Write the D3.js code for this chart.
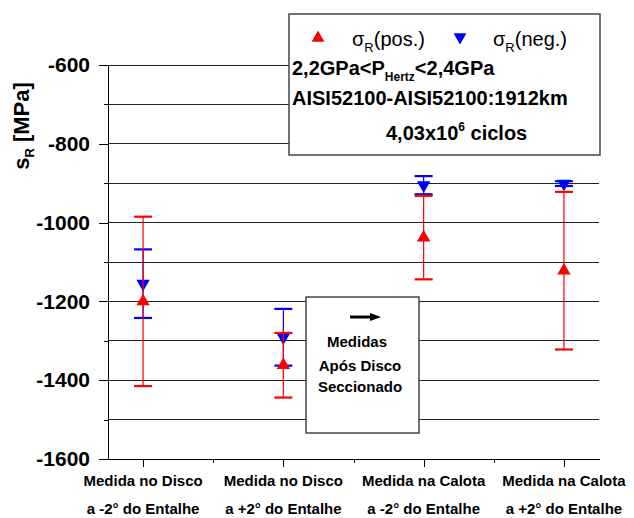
<!DOCTYPE html>
<html lang="pt">
<head>
<meta charset="UTF-8">
<title>Tensão residual - sigma R</title>
<script src="https://d3js.org/d3.v7.min.js"></script>
<style>
  body { margin: 0; background: #fff; }
  text { font-family: "Liberation Sans", Arial, sans-serif; fill: #000; }
  .axis path, .axis line { fill: none; stroke: #000; stroke-width: 1px; shape-rendering: crispEdges; }
  .axis text { font-size: 21px; font-weight: bold; }
  .grid line { stroke: #222; stroke-width: 1px; shape-rendering: crispEdges; }
  .box { fill: #fff; stroke: #444; stroke-width: 1.5px; }
  .xlab { font-size: 15px; font-weight: bold; text-anchor: middle; }
  .note { font-size: 15px; font-weight: bold; text-anchor: middle; }
  .leg { font-size: 20px; }
  .legb { font-size: 20px; font-weight: bold; }
</style>
</head>
<body>
<svg width="634" height="518"></svg>
<script>
// categorias (eixo x)
var categories = [1, 2, 3, 4];
var catLine1 = ["Medida no Disco", "Medida no Disco", "Medida na Calota", "Medida na Calota"];
var catLine2 = ["a -2° do Entalhe", "a +2° do Entalhe", "a -2° do Entalhe", "a +2° do Entalhe"];

// sigma R (pos.) - vermelho
var posMean = [-1200, -1362, -1038, -1122];
var posErr = [215, 82, 106, 200];
// sigma R (neg.) - azul
var negMean = [-1155, -1291, -905, -901];
var negErr = [87, 72, 23, 6];

// ticks
var yMajor = [-1600, -1400, -1200, -1000, -800, -600];
var yMinor = [-1500, -1300, -1100, -900, -700];
var yGrid = [-1500, -1400, -1300, -1200, -1100, -1000, -900, -800, -700, -600];
var xMinor = [1.5, 2.5, 3.5];

var svg = d3.select("svg"),
    m = {left: 108, right: 599, top: 65, bottom: 459};

var x = d3.scaleLinear().domain([0.75, 4.25]).range([m.left, m.right]);
var y = d3.scaleLinear().domain([-1600, -600]).range([m.bottom, m.top]);

// grade
svg.append("g").attr("class", "grid")
  .selectAll("line").data(yGrid).enter().append("line")
  .attr("x1", m.left).attr("x2", m.right)
  .attr("y1", function(d) { return y(d); })
  .attr("y2", function(d) { return y(d); });

// eixo y
svg.append("g").attr("class", "axis")
  .attr("transform", "translate(" + m.left + ",0)")
  .call(d3.axisLeft(y).tickValues(yMajor).tickSize(9).tickSizeOuter(0).tickPadding(9)
    .tickFormat(function(d) { return String(d); }));
svg.append("g").attr("class", "axis")
  .attr("transform", "translate(" + m.left + ",0)")
  .call(d3.axisLeft(y).tickValues(yMinor).tickSize(4.5).tickSizeOuter(0).tickFormat(""))
  .select(".domain").remove();

// eixo x
svg.append("g").attr("class", "axis")
  .attr("transform", "translate(0," + m.bottom + ")")
  .call(d3.axisBottom(x).tickValues(categories).tickSize(8).tickSizeOuter(0).tickFormat(""));
svg.append("g").attr("class", "axis")
  .attr("transform", "translate(0," + m.bottom + ")")
  .call(d3.axisBottom(x).tickValues(xMinor).tickSize(4).tickSizeOuter(0).tickFormat(""))
  .select(".domain").remove();

// rótulos x em duas linhas
var xl = svg.append("g").selectAll("g").data(categories).enter().append("g");
xl.append("text").attr("class", "xlab")
  .attr("x", function(d) { return x(d); }).attr("y", 486)
  .text(function(d, i) { return catLine1[i]; });
xl.append("text").attr("class", "xlab")
  .attr("x", function(d) { return x(d); }).attr("y", 514)
  .text(function(d, i) { return catLine2[i]; });

// título eixo y
var yt = svg.append("text")
  .attr("transform", "translate(29,126) rotate(-90)")
  .attr("text-anchor", "middle")
  .style("font-size", "22px").style("font-weight", "bold");
yt.append("tspan").text("s");
yt.append("tspan").attr("dy", 5).style("font-size", "13px").text("R");
yt.append("tspan").attr("dy", -5).text(" [MPa]");

// barras de erro + marcadores
function series(mean, err, color, rot) {
  var g = svg.append("g");
  var d = categories.map(function(c, i) { return {c: c, m: mean[i], e: err[i]}; });
  g.selectAll(".v").data(d).enter().append("line")
    .attr("stroke", color).attr("stroke-width", 1.2)
    .attr("x1", function(p) { return x(p.c); }).attr("x2", function(p) { return x(p.c); })
    .attr("y1", function(p) { return y(p.m + p.e); })
    .attr("y2", function(p) { return y(p.m - p.e); });
  [1, -1].forEach(function(s) {
    g.selectAll(".cap" + s).data(d).enter().append("line")
      .attr("stroke", color).attr("stroke-width", 2.2)
      .attr("x1", function(p) { return x(p.c) - 9; }).attr("x2", function(p) { return x(p.c) + 9; })
      .attr("y1", function(p) { return y(p.m + s * p.e); })
      .attr("y2", function(p) { return y(p.m + s * p.e); });
  });
  g.selectAll("path").data(d).enter().append("path")
    .attr("fill", color)
    .attr("d", d3.symbol().type(d3.symbolTriangle).size(78))
    .attr("transform", function(p) { return "translate(" + x(p.c) + "," + y(p.m) + ") rotate(" + rot + ")"; });
}
series(negMean, negErr, "#0000ff", 180);
series(posMean, posErr, "#ff0000", 0);

// caixa de legenda
svg.append("rect").attr("class", "box")
  .attr("x", 289).attr("y", 14).attr("width", 311).attr("height", 141);
svg.append("path").attr("fill", "#ff0000")
  .attr("d", d3.symbol().type(d3.symbolTriangle).size(72))
  .attr("transform", "translate(318,38)");
svg.append("path").attr("fill", "#0000ff")
  .attr("d", d3.symbol().type(d3.symbolTriangle).size(72))
  .attr("transform", "translate(460,37) rotate(180)");

function sigma(xp, label) {
  var t = svg.append("text").attr("class", "leg").attr("x", xp).attr("y", 46);
  t.append("tspan").text("σ");
  t.append("tspan").attr("dy", 6).style("font-size", "13px").text("R");
  t.append("tspan").attr("dy", -6).text(label);
}
sigma(352, "(pos.)");
sigma(493, "(neg.)");

var l1 = svg.append("text").attr("class", "legb").attr("x", 292).attr("y", 75);
l1.append("tspan").text("2,2GPa<P");
l1.append("tspan").attr("dy", 6).style("font-size", "12px").text("Hertz");
l1.append("tspan").attr("dy", -6).text("<2,4GPa");
svg.append("text").attr("class", "legb").attr("x", 292).attr("y", 105)
  .text("AISI52100-AISI52100:1912km");
var l3 = svg.append("text").attr("class", "legb").attr("x", 386).attr("y", 140);
l3.append("tspan").text("4,03x10");
l3.append("tspan").attr("dy", -9).style("font-size", "12px").text("6");
l3.append("tspan").attr("dy", 9).text(" ciclos");

// caixa "Medidas Após Disco Seccionado"
svg.append("rect").attr("class", "box")
  .attr("x", 306).attr("y", 297).attr("width", 113).attr("height", 136);
svg.append("line").attr("x1", 350).attr("x2", 372).attr("y1", 317).attr("y2", 317)
  .attr("stroke", "#000").attr("stroke-width", 3);
svg.append("path").attr("d", "M370,313L381,317L370,321Z").attr("fill", "#000");
svg.append("text").attr("class", "note").attr("x", 357).attr("y", 347).text("Medidas");
svg.append("text").attr("class", "note").attr("x", 360).attr("y", 371).text("Após Disco");
svg.append("text").attr("class", "note").attr("x", 360).attr("y", 392).text("Seccionado");
</script>
</body>
</html>
